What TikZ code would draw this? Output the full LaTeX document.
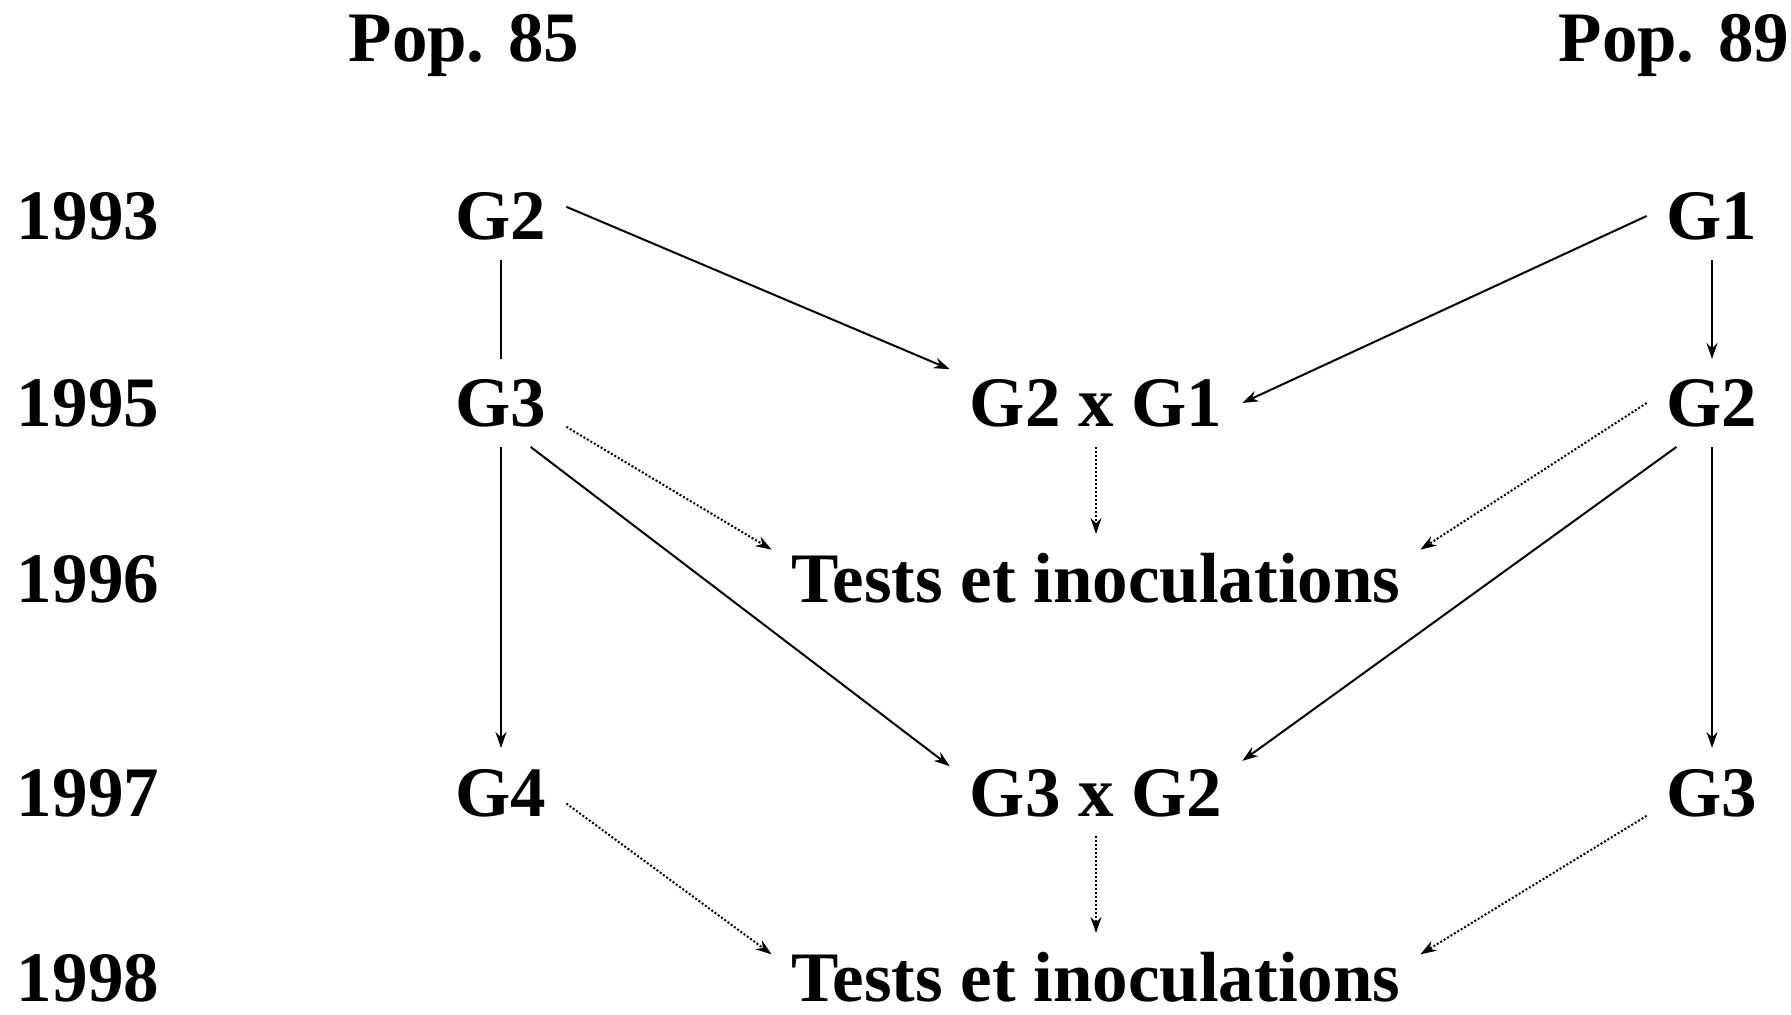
\documentclass[tikz,border=0pt]{standalone}
\usepackage{fontspec}
\setmainfont{Liberation Serif}
\usetikzlibrary{arrows.meta}
\begin{document}
\begin{tikzpicture}[x=0.5pt,y=-0.5pt,>={Stealth[length=8pt,width=5.5pt]},
  every node/.style={font=\bfseries\fontsize{35.5}{40}\selectfont,inner sep=0pt,outer sep=10pt,text height=24pt,text depth=0pt,anchor=base},
  link/.style={->,line width=1pt},
  test/.style={->,line width=1pt,densely dotted}]
      \useasboundingbox (0,0) rectangle (1791,1015);
      \clip (0,0) rectangle (1791,1015);
      \node (p85) at (464,62) {Pop. 85};
      \node (p89) at (1674,62) {Pop. 89};
      \node (y93) at (88,240) {1993};
      \node (y95) at (88,427) {1995};
      \node (y96) at (88,602) {1996};
      \node (y97) at (88,816) {1997};
      \node (y98) at (88,1001) {1998};
      \node (a93) at (501,240) {G2};
      \node (a95) at (501,427) {G3};
      \node (a97) at (501,816) {G4};
      \node (b93) at (1712,240) {G1};
      \node (b95) at (1712,427) {G2};
      \node (b97) at (1712,816) {G3};
      \node (c95) at (1096,427) {G2 x G1};
      \node (c96) at (1096,602) {Tests et inoculations};
      \node (c97) at (1096,816) {G3 x G2};
      \node (c98) at (1096,1001) {Tests et inoculations};
      \draw[link] (a93.8)--(c95.167);
      \draw[link] (b93.west)--(c95.east);
      \draw[link] (b93.south)--(b95.north);
      \draw[line width=1pt] (a93.south)--(a95.north);
      \draw[test] (a95.-20)--(c96.175);
      \draw[test] (c95.south)--(c96.north);
      \draw[test] (b95.west)--(c96.5);
      \draw[link] (a95.south)--(a97.north);
      \draw[link] (a95.-56)--(c97.170);
      \draw[link] (b95.231)--(c97.12);
      \draw[link] (b95.south)--(b97.north);
      \draw[test] (a97.-10)--(c98.176);
      \draw[test] (c97.south)--(c98.north);
      \draw[test] (b97.200)--(c98.4);
\end{tikzpicture}
\end{document}
